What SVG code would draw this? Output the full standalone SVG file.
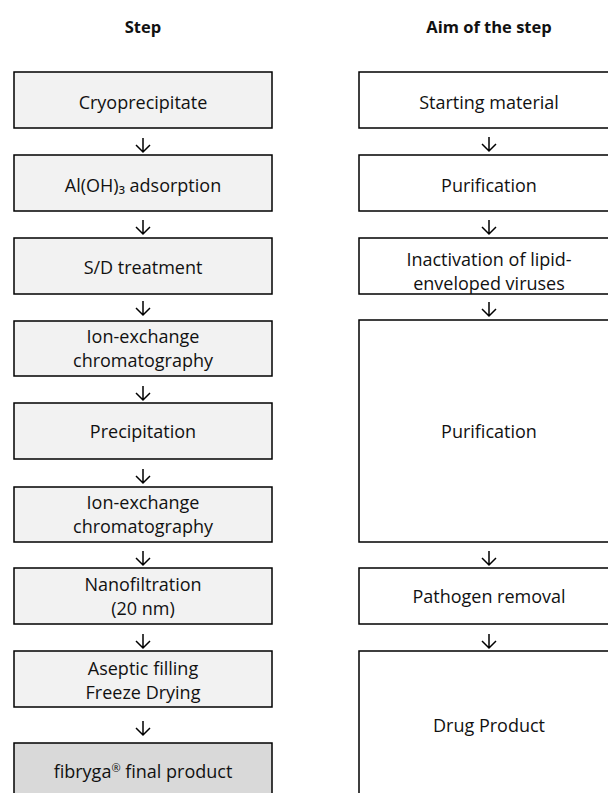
<svg xmlns="http://www.w3.org/2000/svg" width="608" height="793" viewBox="0 0 608 793">
<style>
.s{fill:#f2f2f2;stroke:#000;stroke-width:1.5}
.f{fill:#d9d9d9;stroke:#000;stroke-width:1.5}
.a{fill:#fff;stroke:#000;stroke-width:1.5}
text{font-family:"Open Sans","Noto Sans",sans-serif;font-size:18px;fill:#111;text-anchor:middle}
.h{font-weight:bold;font-size:16.5px}
.c path{fill:none;stroke:#000;stroke-width:1.5}
</style>
<rect width="608" height="793" fill="#fff"/>
<text class="h" x="143" y="33">Step</text>
<text class="h" x="489" y="33">Aim of the step</text>
<g id="s1"><rect class="s" x="14" y="72" width="258" height="56"/><text x="143" y="109">Cryoprecipitate</text></g>
<g id="s2"><rect class="s" x="14" y="155" width="258" height="56"/><text x="143" y="192">Al(OH)₃ adsorption</text></g>
<g id="s3"><rect class="s" x="14" y="238" width="258" height="56"/><text x="143" y="274">S/D treatment</text></g>
<g id="s4"><rect class="s" x="14" y="321" width="258" height="55"/><text x="143" y="343">Ion-exchange</text><text x="143" y="367">chromatography</text></g>
<g id="s5"><rect class="s" x="14" y="403" width="258" height="56"/><text x="143" y="438">Precipitation</text></g>
<g id="s6"><rect class="s" x="14" y="487" width="258" height="55"/><text x="143" y="509">Ion-exchange</text><text x="143" y="533">chromatography</text></g>
<g id="s7"><rect class="s" x="14" y="568" width="258" height="56"/><text x="143" y="591">Nanofiltration</text><text x="143" y="615">(20 nm)</text></g>
<g id="s8"><rect class="s" x="14" y="651" width="258" height="56"/><text x="143" y="675">Aseptic filling</text><text x="143" y="699">Freeze Drying</text></g>
<g id="s9"><rect class="f" x="14" y="743" width="258" height="60"/><text x="143" y="778">fibryga<tspan font-size="11" dy="-6">®</tspan><tspan dy="6"> final product</tspan></text></g>
<g id="a1"><rect class="a" x="359" y="72" width="260" height="56"/><text x="489" y="109">Starting material</text></g>
<g id="a2"><rect class="a" x="359" y="155" width="260" height="56"/><text x="489" y="192">Purification</text></g>
<g id="a3"><rect class="a" x="359" y="238" width="260" height="56"/><text x="489" y="266">Inactivation of lipid-</text><text x="489" y="290">enveloped viruses</text></g>
<g id="a4"><rect class="a" x="359" y="320" width="260" height="222"/><text x="489" y="438">Purification</text></g>
<g id="a5"><rect class="a" x="359" y="568" width="260" height="56"/><text x="489" y="603">Pathogen removal</text></g>
<g id="a6"><rect class="a" x="359" y="651" width="260" height="160"/><text x="489" y="732">Drug Product</text></g>
<g id="connectors" class="c">
<path d="M143 138V152M136 145L143 152L150 145"/>
<path d="M143 220V234M136 227L143 234L150 227"/>
<path d="M143 301V315M136 308L143 315L150 308"/>
<path d="M143 386V400M136 393L143 400L150 393"/>
<path d="M143 469V483M136 476L143 483L150 476"/>
<path d="M143 551V565M136 558L143 565L150 558"/>
<path d="M143 634V648M136 641L143 648L150 641"/>
<path d="M143 721V735M136 728L143 735L150 728"/>
<path d="M489 137V151M482 144L489 151L496 144"/>
<path d="M489 220V234M482 227L489 234L496 227"/>
<path d="M489 302V316M482 309L489 316L496 309"/>
<path d="M489 551V565M482 558L489 565L496 558"/>
<path d="M489 634V648M482 641L489 648L496 641"/>
</g>
</svg>
